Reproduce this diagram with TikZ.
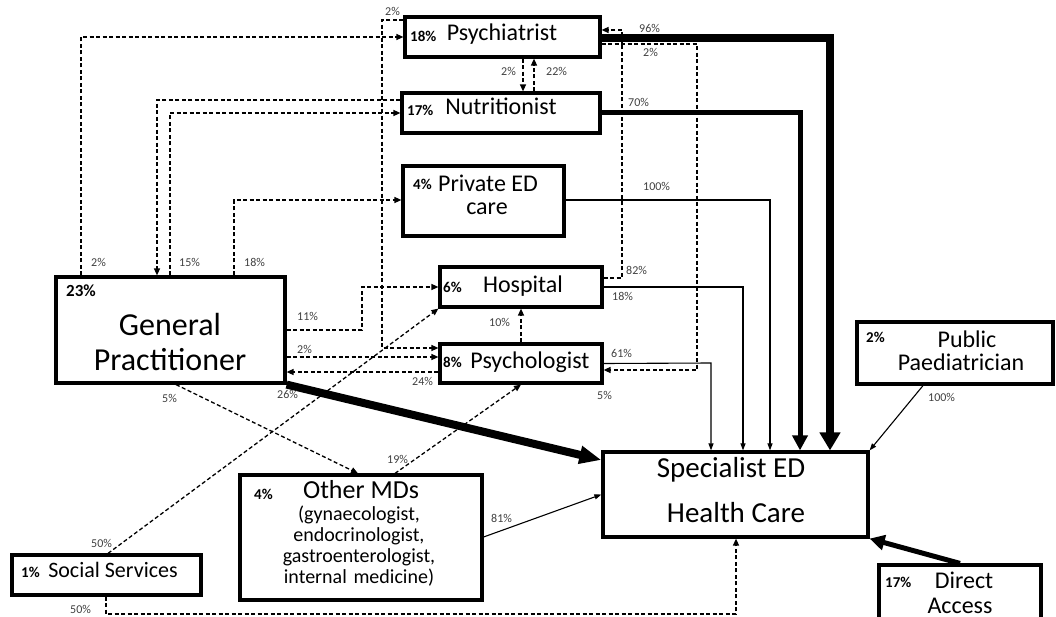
\documentclass[tikz,border=0pt]{standalone}
\usepackage{fontspec}
\setmainfont{Carlito}
\usetikzlibrary{arrows.meta}

\begin{document}
\begin{tikzpicture}[x=1pt,y=-1pt,
  box/.style={draw,fill=white,line width=3.2pt,inner sep=0pt},
  pct/.style={font=\bfseries\fontsize{15}{15}\selectfont,inner sep=0pt,anchor=base west},
  txt/.style={font=\fontsize{24}{24}\selectfont,inner sep=0pt,anchor=base},
  lab/.style={font=\fontsize{12}{12}\selectfont,text=black!75,inner sep=0pt,anchor=base west},
  dsh/.style={dash pattern=on 4pt off 2.5pt,line width=1.3pt,-{Triangle[length=7pt,width=6pt]}},
  flow/.style={line width=1.1pt,-{Triangle[length=7pt,width=5pt]}},
  mid/.style={line width=5pt,-{Triangle[length=15pt,width=15pt]}},
  heavy/.style={line width=7.5pt,-{Triangle[length=18pt,width=20pt]}},
  big/.style={line width=8pt,-{Triangle[length=22pt,width=17pt]}}]
\useasboundingbox (0,0) rectangle (1056,617);

% boxes
\node[box,minimum width=195,minimum height=40] (psy) at (502.5,37) {};
\node[box,minimum width=198,minimum height=40] (nut) at (501,113) {};
\node[box,minimum width=161,minimum height=70] (priv) at (483.5,201) {};
\node[box,minimum width=162,minimum height=40] (hosp) at (521,287) {};
\node[box,minimum width=162,minimum height=39] (psyc) at (521,363.5) {};
\node[box,minimum width=229,minimum height=106] (gp) at (170.5,330) {};
\node[box,minimum width=265,minimum height=85] (spec) at (735.5,494.5) {};
\node[box,minimum width=196,minimum height=62] (paed) at (955,353) {};
\node[box,minimum width=242,minimum height=125] (other) at (361,537.5) {};
\node[box,minimum width=189,minimum height=40] (soc) at (106.5,575) {};
\node[box,minimum width=162,minimum height=65] (direct) at (960,597.5) {};

% texts in boxes
\node[pct] (psyp) at (410,42) {18\%};
\node[txt] (psyt) at (502,41) {Psychiatrist};
\node[pct] (nutp) at (407,116) {17\%};
\node[txt] (nutt) at (501,115) {Nutritionist};
\node[pct] (privp) at (413,190) {4\%};
\node[txt] (privt) at (488,192) {Private ED};
\node[txt] (privt2) at (487,215) {care};
\node[pct] (hospp) at (443,292) {6\%};
\node[txt] (hospt) at (523,293) {Hospital};
\node[pct] (psycp) at (443,367) {8\%};
\node[txt] (psyct) at (530,368) {Psychologist};
\node[pct,font=\bfseries\fontsize{17}{17}\selectfont] (gpp) at (66,297) {23\%};
\node[txt,font=\fontsize{32}{32}\selectfont] (gpt) at (170,335) {General};
\node[txt,font=\fontsize{32}{32}\selectfont] (gpt2) at (170,370) {Practitioner};
\node[txt,font=\fontsize{29}{29}\selectfont] (spect) at (731,477) {Specialist ED};
\node[txt,font=\fontsize{29}{29}\selectfont] (spect2) at (736,522) {Health Care};
\node[pct] (paedp) at (866,342) {2\%};
\node[txt] (paedt) at (967,347) {Public};
\node[txt] (paedt2) at (961,370) {Paediatrician};
\node[pct] (otherp) at (254,499) {4\%};
\node[txt,font=\fontsize{26}{26}\selectfont] (othert) at (361,498) {Other MDs};
\node[txt,font=\fontsize{20}{21}\selectfont,text width=200,align=center] (othert2) at (359,520)
  {(gynaecologist,\\endocrinologist,\\gastroenterologist,\\internal medicine)};
\node[pct] (socp) at (21,577) {1\%};
\node[txt,font=\fontsize{22}{22}\selectfont] (soct) at (113,577) {Social Services};
\node[pct] (directp) at (885,587) {17\%};
\node[txt] (directt) at (964,588) {Direct};
\node[txt] (directt2) at (960,613) {Access};

% bend points
\coordinate (c1) at (81,37);
\coordinate (c2) at (157,100);
\coordinate (c3) at (170,113);
\coordinate (c4) at (234,200);
\coordinate (c5) at (362,330);
\coordinate (c5b) at (362,287);
\coordinate (c6) at (380,357);
\coordinate (c7) at (380,372);
\coordinate (c8) at (382,20);
\coordinate (c8b) at (382,348);
\coordinate (c9) at (600,460);
\coordinate (c10) at (176,0);
\coordinate (c10b) at (358,0);
\coordinate (c11) at (108,0);
\coordinate (c12) at (106,614);
\coordinate (c12b) at (736,614);
\coordinate (c13) at (395,0);
\coordinate (c14) at (482,537);
\coordinate (c15) at (523,0);
\coordinate (c16) at (534,0);
\coordinate (c17) at (830,38);
\coordinate (c18) at (800,113);
\coordinate (c19) at (770,200);
\coordinate (c20) at (743,287);
\coordinate (c21) at (711,363);
\coordinate (c22) at (622,278);
\coordinate (c22b) at (622,30);
\coordinate (c23) at (697,44);
\coordinate (c23b) at (697,370);
\coordinate (c24) at (923,0);

% dashed referrals
\draw[dsh] (c1 |- gp.north) -- (c1) -- (c1 -| psy.west);
\draw[dsh] (c2 -| nut.west) -- (c2) -- (c2 |- gp.north);
\draw[dsh] (c3 |- gp.north) -- (c3) -- (c3 -| nut.west);
\draw[dsh] (c4 |- gp.north) -- (c4) -- (c4 -| priv.west);
\draw[dsh] (c5 -| gp.east) -- (c5) -- (c5b) -- (c5b -| hosp.west);
\draw[dsh] (c6 -| gp.east) -- (c6 -| psyc.west);
\draw[dsh] (c7 -| psyc.west) -- (c7 -| gp.east);
\draw[dsh] (c8 -| psy.west) -- (c8) -- (c8b) -- (c8b -| psyc.west);
\draw[dsh] (c10 |- gp.south) -- (c10b |- other.north);
\draw[dsh] (c11 |- soc.north) -- (hosp.south west);
\draw[dsh] (c12 |- soc.south) -- (c12) -- (c12b) -- (c12b |- spec.south);
\draw[dsh] (c13 |- other.north) -- (psyc.south);
\draw[dsh] (psyc.north) -- (hosp.south);
\draw[dsh] (c15 |- psy.south) -- (c15 |- nut.north);
\draw[dsh] (c16 |- nut.north) -- (c16 |- psy.south);
\draw[dsh] (c22 -| hosp.east) -- (c22) -- (c22b) -- (c22b -| psy.east);
\draw[dsh] (c23 -| psy.east) -- (c23) -- (c23b) -- (c23b -| psyc.east);

% to specialist care
\draw[heavy] (c17 -| psy.east) -- (c17) -- (c17 |- spec.north);
\draw[mid] (nut.east) -- (c18) -- (c18 |- spec.north);
\draw[flow] (c19 -| priv.east) -- (c19) -- (c19 |- spec.north);
\draw[flow] (hosp.east) -- (c20) -- (c20 |- spec.north);
\draw[flow] (psyc.east) -- (c21) -- (c21 |- spec.north);
\draw[big] (gp.south east) -- (c9 -| spec.west);
\draw[flow] (c14 -| other.east) -- (spec.west);
\draw[flow] (c24 |- paed.south) -- (spec.north east);
\draw[mid] (direct.north) -- (spec.south east);

% percentages on the arrows
\node[lab] (l1) at (91,267) {2\%};
\node[lab] (l2) at (179,267) {15\%};
\node[lab] (l3) at (244,267) {18\%};
\node[lab] (l4) at (385,16) {2\%};
\node[lab] (l5) at (501,76) {2\%};
\node[lab] (l6) at (546,76) {22\%};
\node[lab] (l7) at (639,33) {96\%};
\node[lab] (l8) at (643,57) {2\%};
\node[lab] (l9) at (628,107) {70\%};
\node[lab] (l10) at (643,191) {100\%};
\node[lab] (l11) at (626,275) {82\%};
\node[lab] (l12) at (612,300) {18\%};
\node[lab] (l13) at (611,357) {61\%};
\node[lab] (l14) at (597,399) {5\%};
\node[lab] (l15) at (928,401) {100\%};
\node[lab] (l16) at (489,326) {10\%};
\node[lab] (l17) at (297,320) {11\%};
\node[lab] (l18) at (297,353) {2\%};
\node[lab] (l19) at (412,385) {24\%};
\node[lab] (l20) at (277,398) {26\%};
\node[lab] (l21) at (162,402) {5\%};
\node[lab] (l22) at (387,463) {19\%};
\node[lab] (l23) at (491,522) {81\%};
\node[lab] (l24) at (91,547) {50\%};
\node[lab] (l25) at (70,613) {50\%};
\end{tikzpicture}
\end{document}
